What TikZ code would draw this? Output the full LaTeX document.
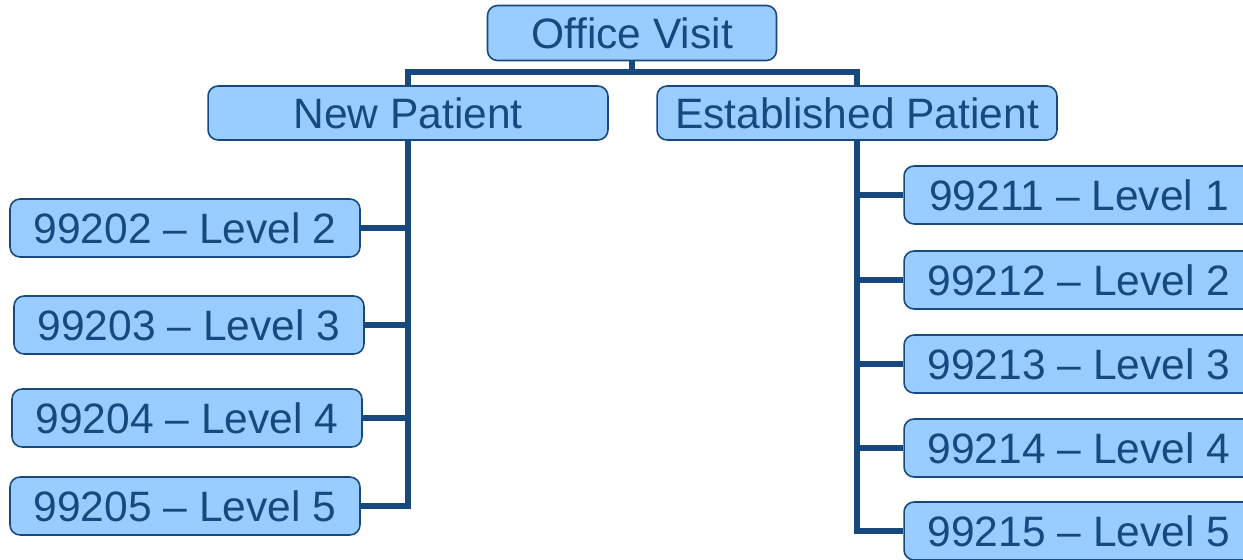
\documentclass[tikz,border=0pt]{standalone}
\usepackage{fontspec}
\setmainfont{Liberation Sans}
\definecolor{boxfill}{HTML}{99CCFF}
\definecolor{boxline}{HTML}{17497E}

\begin{document}
\begin{tikzpicture}[x=0.02cm, y=-0.02cm,
	box/.style={draw=boxline, fill=boxfill, line width=0.9pt, rounded corners=0.2cm,
		text=boxline, font=\fontsize{24.2}{28}\selectfont, inner sep=0pt,
		minimum width=7cm, minimum height=1.16cm},
	link/.style={draw=boxline, line width=3.5pt}]
	\useasboundingbox (0, 0) rectangle (1243, 560);
	\clip (0, 0) rectangle (1243, 560);

	\coordinate (bar) at (632, 72);

	\node[box, minimum width=5.78cm, minimum height=1.1cm] (visit) at (632, 33) {Office Visit};
	\node[box, minimum width=8cm, minimum height=1.08cm] (new) at (408, 113) {New Patient};
	\node[box, minimum width=8cm, minimum height=1.08cm] (est) at (857, 113) {Established Patient};

	\node[box] (n2) at (185, 228) {99202 -- Level 2};
	\node[box] (n3) at (189, 325) {99203 -- Level 3};
	\node[box] (n4) at (187, 418) {99204 -- Level 4};
	\node[box] (n5) at (185, 506) {99205 -- Level 5};

	\node[box] (e1) at (1079, 195) {99211 -- Level 1};
	\node[box] (e2) at (1079, 280) {99212 -- Level 2};
	\node[box] (e3) at (1079, 364) {99213 -- Level 3};
	\node[box] (e4) at (1079, 448) {99214 -- Level 4};
	\node[box] (e5) at (1079, 531) {99215 -- Level 5};

	% tree lines
	\draw[link] (visit.south) -- (bar);
	\draw[link] (new.north) |- (bar) -| (est.north);

	\draw[link] (new.south) |- (n5.east);
	\foreach \i in {2,3,4}
		\draw[link] (n\i.east) -- (n\i.east -| new.south);

	\draw[link] (est.south) |- (e5.west);
	\foreach \i in {1,2,3,4}
		\draw[link] (e\i.west) -- (e\i.west -| est.south);
\end{tikzpicture}
\end{document}
